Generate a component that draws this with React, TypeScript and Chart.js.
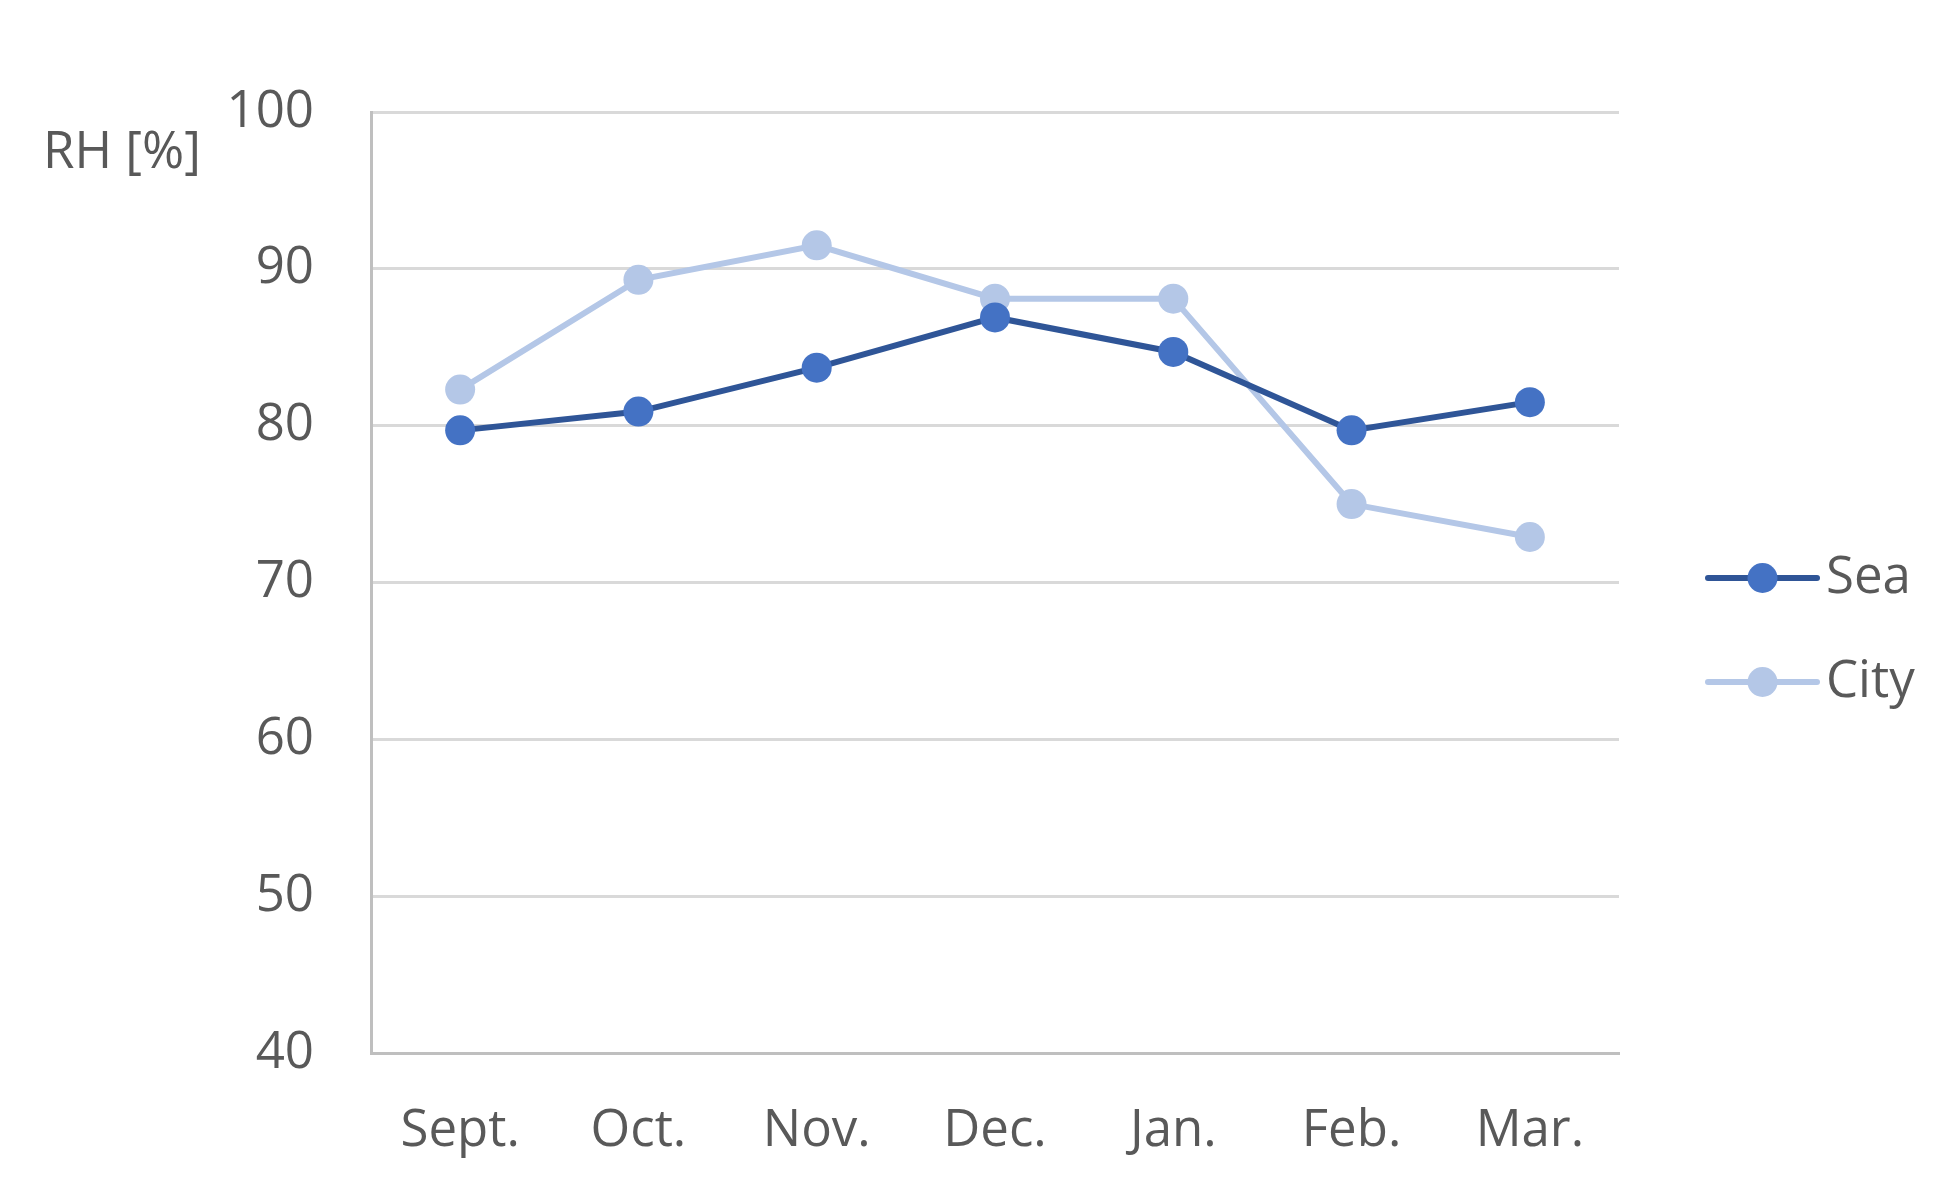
import React, { useEffect, useRef } from "react";
import { Chart, registerables } from "chart.js";

Chart.register(...registerables);

const months = ["Sept.", "Oct.", "Nov.", "Dec.", "Jan.", "Feb.", "Mar."];
const seaValues = [79.7, 80.9, 83.7, 86.9, 84.7, 79.7, 81.5];
const cityValues = [82.3, 89.3, 91.5, 88.1, 88.1, 75.0, 72.9];
const yTicks = [40, 50, 60, 70, 80, 90, 100];
const seriesNames = ["Sea", "City"];
const yTitle = "RH [%]";

const FONT = "'Open Sans', 'Noto Sans', sans-serif";
const TEXT = "#595959";
const SEA_LINE = "#2F5597";
const SEA_MARK = "#4472C4";
const CITY_LINE = "#B4C7E7";
const CITY_MARK = "#B4C7E7";

const extrasPlugin = {
  id: "extras",
  afterDraw(chart: any) {
    const ctx = chart.ctx;
    const area = chart.chartArea;
    ctx.save();
    // Y title (horizontal, top-left)
    ctx.fillStyle = TEXT;
    ctx.font = `51px ${FONT}`;
    ctx.textAlign = "left";
    ctx.textBaseline = "alphabetic";
    ctx.fillText(yTitle, 43, 168);

    // Legend
    const items = [
      { name: seriesNames[0], line: SEA_LINE, mark: SEA_MARK, y: 578 },
      { name: seriesNames[1], line: CITY_LINE, mark: CITY_MARK, y: 682 },
    ];
    const x0 = area.right + 89;
    const x1 = area.right + 198;
    items.forEach((it) => {
      ctx.strokeStyle = it.line;
      ctx.lineWidth = 6;
      ctx.lineCap = "round";
      ctx.beginPath();
      ctx.moveTo(x0, it.y);
      ctx.lineTo(x1, it.y);
      ctx.stroke();
      ctx.fillStyle = it.mark;
      ctx.beginPath();
      ctx.arc((x0 + x1) / 2, it.y, 15, 0, Math.PI * 2);
      ctx.fill();
      ctx.fillStyle = TEXT;
      ctx.font = `51px ${FONT}`;
      ctx.textAlign = "left";
      ctx.textBaseline = "alphabetic";
      ctx.fillText(it.name, area.right + 207, it.y + 15);
    });
    ctx.restore();
  },
};

export default function App() {
  const ref = useRef<HTMLCanvasElement | null>(null);

  useEffect(() => {
    document.body.style.margin = "0";
    const canvas = ref.current!;
    const chart = new Chart(canvas, {
      type: "line",
      data: {
        labels: months,
        datasets: [
          {
            label: seriesNames[0],
            data: seaValues,
            borderColor: SEA_LINE,
            backgroundColor: SEA_MARK,
            pointBackgroundColor: SEA_MARK,
            pointBorderColor: SEA_MARK,
            borderWidth: 6,
            pointRadius: 15,
            pointBorderWidth: 0,
            tension: 0,
            order: 1,
          },
          {
            label: seriesNames[1],
            data: cityValues,
            borderColor: CITY_LINE,
            backgroundColor: CITY_MARK,
            pointBackgroundColor: CITY_MARK,
            pointBorderColor: CITY_MARK,
            borderWidth: 6,
            pointRadius: 15,
            pointBorderWidth: 0,
            tension: 0,
            order: 2,
          },
        ],
      },
      options: {
        responsive: false,
        animation: false,
        devicePixelRatio: 1,
        layout: { padding: { top: 112, right: 329, left: 0, bottom: 0 } },
        plugins: {
          legend: { display: false },
          tooltip: { enabled: false },
          title: { display: false },
        },
        scales: {
          x: {
            offset: true,
            grid: { display: false, drawTicks: false },
            border: { display: true, color: "#BFBFBF", width: 3 },
            ticks: {
              color: TEXT,
              font: { family: FONT, size: 51 },
              padding: 48,
              maxRotation: 0,
              autoSkip: false,
            },
            afterFit: (scale: any) => {
              scale.height = 140;
            },
          },
          y: {
            min: 40,
            max: 100,
            grid: { color: "#D9D9D9", lineWidth: 3, drawTicks: false },
            border: { display: true, color: "#BFBFBF", width: 3 },
            afterBuildTicks: (scale: any) => {
              scale.ticks = yTicks.map((v) => ({ value: v }));
            },
            ticks: {
              color: TEXT,
              font: { family: FONT, size: 51 },
              padding: 57,
            },
            afterFit: (scale: any) => {
              scale.width = 371;
            },
          },
        },
      },
      plugins: [extrasPlugin],
    });
    return () => chart.destroy();
  }, []);

  return (
    <div style={{ width: 1948, height: 1193 }}>
      <canvas ref={ref} width={1948} height={1193} style={{ display: "block", width: 1948, height: 1193 }} />
    </div>
  );
}
